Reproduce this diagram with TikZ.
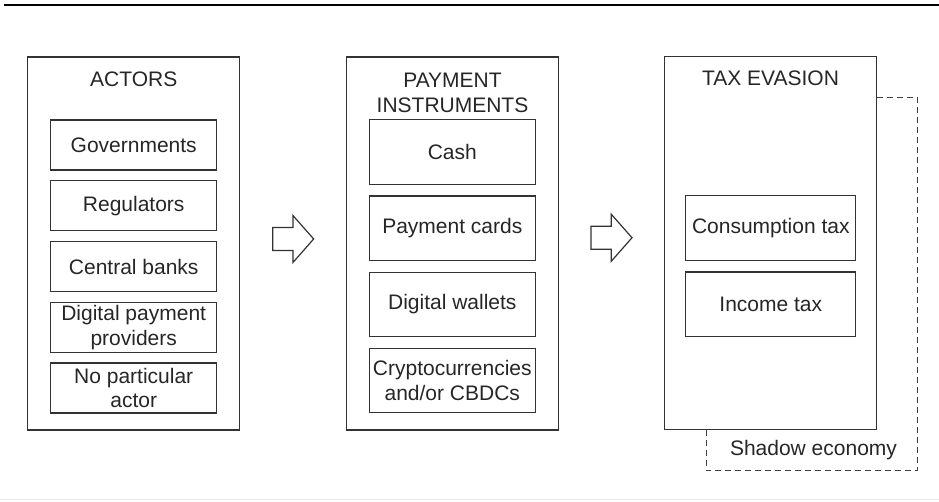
\documentclass[tikz,border=0pt]{standalone}
\usepackage{fontspec}
\setmainfont{Liberation Sans}
\usetikzlibrary{calc}

\begin{document}
\begin{tikzpicture}[x=0.5pt, y=-0.5pt,
  every node/.style={font=\fontsize{10.5}{12.4}\selectfont, text=black!85},
  panel/.style={draw=black!80, line width=0.65pt, minimum width=106pt, minimum height=186.5pt, inner sep=0pt},
  item/.style={draw=black!80, line width=0.6pt, align=center, inner sep=0pt},
  blockarrow/.style={draw=black!80, line width=0.6pt, line join=miter},
  shadow/.style={draw=black!75, line width=0.5pt, dash pattern=on 3pt off 2pt}]

\useasboundingbox (0,0) rectangle (939,502);

%─────────────
% Controls
%─────────────
\def\itemw{83pt}    % width of the boxes in the first two panels
\def\itemh{25pt}    % height of the actor boxes
\def\insth{32.2pt}  % height of the instrument and tax boxes

%─────────────────────────────────────────────────────────────
% Hollow block arrow centred on a coordinate
%─────────────────────────────────────────────────────────────
\newcommand{\drawBlockArrow}[1]{%
  \draw[blockarrow] (#1) ++(-20.5,-11.5) -- ++(20.3,0) -- ++(0,-12)
    -- ++(20.7,23.5) -- ++(-20.7,23.5) -- ++(0,-12) -- ++(-20.3,0) -- cycle;
}

%─────────────
% Rules
%─────────────
\draw[black, line width=1.3pt] (4,5) -- (939,5);
\draw[black!8, line width=0.5pt] (0,500) -- (939,500);

%─────────────
% Panels
%─────────────
\node[panel] (actors) at (133.8,243.5) {};
\node[panel] (instr)  at (452.5,243.5) {};
\node[panel] (tax)    at (770.5,243) {};

\node (actorsT) at (133.8,79) {ACTORS};
\node[align=center] (instrT) at (452.5,92.5) {PAYMENT\\INSTRUMENTS};
\node (taxT) at (770.5,78.5) {TAX EVASION};

%─────────────
% Actors
%─────────────
\node[item, minimum width=\itemw, minimum height=\itemh] (gov) at (133.7,145) {Governments};
\node[item, minimum width=\itemw, minimum height=\itemh] (reg) at (133.7,205.75) {Regulators};
\node[item, minimum width=\itemw, minimum height=\itemh] (cb)  at (133.7,266.5) {Central banks};
\node[item, minimum width=\itemw, minimum height=\itemh] (dpp) at (133.7,327.25) {Digital payment\\providers};
\node[item, minimum width=\itemw, minimum height=\itemh] (npa) at (133.7,388) {No particular\\actor};

%─────────────
% Payment instruments
%─────────────
\node[item, minimum width=\itemw, minimum height=\insth] (cash)  at (452.3,152) {Cash};
\node[item, minimum width=\itemw, minimum height=\insth] (cards) at (452.3,228.3) {Payment cards};
\node[item, minimum width=\itemw, minimum height=\insth] (wall)  at (452.3,304.5) {Digital wallets};
\node[item, minimum width=\itemw, minimum height=\insth] (cryp)  at (452.3,380.5) {Cryptocurrencies\\and/or CBDCs};

%─────────────
% Tax evasion
%─────────────
\node[item, minimum width=85pt, minimum height=\insth] (cons) at (770.8,228) {Consumption tax};
\node[item, minimum width=85pt, minimum height=\insth] (inc)  at (770.8,304.3) {Income tax};

%─────────────
% Arrows between panels
%─────────────
\coordinate (arrA) at ($(actors.east)!0.5!(instr.west)+(0,-4.5)$);
\coordinate (arrB) at ($(instr.east)!0.5!(tax.west)+(0,-5.5)$);
\drawBlockArrow{arrA}
\drawBlockArrow{arrB}

%─────────────
% Shadow economy outline
%─────────────
\coordinate (shTop) at (0,97.7);
\coordinate (shBot) at (0,470.7);
\coordinate (shR) at (917.5,0);
\coordinate (shL) at (706,0);
\draw[shadow] (tax.east |- shTop) -- (shR |- shTop) -- (shR |- shBot)
  -- (shL |- shBot) -- (shL |- tax.south);
\node (shadowL) at (813.5,450) {Shadow economy};

\end{tikzpicture}
\end{document}
